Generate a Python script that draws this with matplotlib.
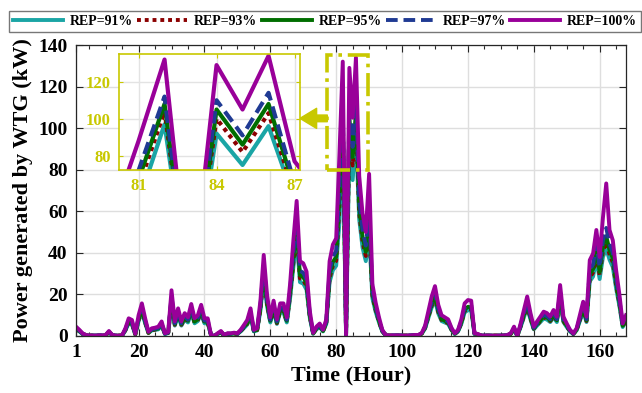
import numpy as np
import matplotlib
matplotlib.use('Agg')
import matplotlib.pyplot as plt
from matplotlib.patches import Rectangle
from matplotlib.ticker import MultipleLocator

plt.rcParams['font.family'] = ['Liberation Serif', 'DejaVu Serif']
plt.rcParams['font.weight'] = 'bold'

# hourly wind turbine output (kW) for each REP level, hours 1..168
hours = np.arange(1, 169)

rep100 = [4.5, 3, 1.3, 0.5, 0.3, 0.2, 0.2, 0.3, 0.3, 0.5,
          2.4, 0.5, 0.2, 0.2, 0.3, 3.7, 8.5, 7.7, 1, 10,
          15.7, 8.5, 2, 3.7, 4, 4.5, 7, 1.3, 2, 22,
          7, 13.3, 7, 11, 9, 15.4, 8.5, 10, 15, 8.5,
          8.5, 0.5, 0, 1.3, 2.4, 0.5, 1.3, 1.3, 1.6, 1.3,
          3, 5.3, 7.7, 13.3, 3, 3.7, 17, 39, 20, 9,
          17, 8, 15.7, 15.7, 9, 25, 46, 65, 36, 35,
          31, 12, 1.5, 4.5, 6, 3, 8, 36, 44, 47,
          88, 132, 0.5, 129, 105, 134, 77, 59, 50, 78,
          25, 16, 9, 3, 0.5, 0.3, 0.3, 0.3, 0.3, 0.2,
          0.2, 0.3, 0.3, 0.5, 0.5, 1.5, 5, 12, 19, 24,
          15, 10, 9, 8, 4, 1.3, 3, 8, 15.7, 17.3,
          17, 1.3, 1, 0.2, 0.2, 0.2, 0.2, 0.2, 0.2, 0.2,
          0.2, 0.5, 1.3, 4.5, 0, 6, 12.5, 19, 11, 4.5,
          7, 9.3, 11.7, 11, 9.3, 12.5, 9.3, 24.5, 9.3, 6,
          3, 1.3, 3.7, 10, 16.5, 9.3, 36.5, 39.7, 51, 38,
          57, 73.4, 51, 46, 31.7, 20, 6, 10]

rep97 = [4.0, 2.6, 1.1, 0.4, 0.3, 0.2, 0.2, 0.3, 0.3, 0.4,
         2.1, 0.4, 0.2, 0.2, 0.3, 3.2, 7.4, 6.7, 0.9, 8.7,
         13.7, 7.4, 1.7, 3.2, 3.5, 3.9, 6.1, 1.1, 1.7, 19.1,
         6.1, 11.6, 6.1, 9.6, 7.8, 13.4, 7.4, 8.7, 13.1, 7.4,
         7.4, 0.4, 0, 1.1, 2.1, 0.4, 1.1, 1.1, 1.4, 1.1,
         2.6, 4.6, 6.7, 11.6, 2.6, 3.2, 14.8, 33.9, 17.4, 7.8,
         14.8, 7.0, 13.7, 13.7, 7.8, 21.8, 40.0, 56.6, 31.3, 30.5,
         27.0, 10.4, 1.3, 3.9, 5.2, 2.6, 7.0, 31.3, 38.3, 40.9,
         72, 112, 0.4, 110, 91, 114, 65, 51.3, 43.5, 60,
         21.8, 13.9, 7.8, 2.6, 0.4, 0.3, 0.3, 0.3, 0.3, 0.2,
         0.2, 0.3, 0.3, 0.4, 0.4, 1.3, 4.4, 10.4, 16.5, 20.9,
         13.1, 8.7, 7.8, 7.0, 3.5, 1.1, 2.6, 7.0, 13.7, 15.1,
         14.8, 1.1, 0.9, 0.2, 0.2, 0.2, 0.2, 0.2, 0.2, 0.2,
         0.2, 0.4, 1.1, 3.9, 0, 5.2, 10.9, 16.5, 9.6, 3.9,
         6.1, 8.1, 10.2, 9.6, 8.1, 10.9, 8.1, 21.3, 8.1, 5.2,
         2.6, 1.1, 3.2, 8.7, 14.4, 8.1, 31.8, 34.5, 44.4, 33.1,
         46, 52, 44.4, 40.0, 27.6, 17.4, 5.2, 8.7]

rep95 = [3.7, 2.4, 1.1, 0.4, 0.2, 0.2, 0.2, 0.2, 0.2, 0.4,
         1.9, 0.4, 0.2, 0.2, 0.2, 3.0, 6.9, 6.2, 0.8, 8.1,
         12.7, 6.9, 1.6, 3.0, 3.2, 3.6, 5.7, 1.1, 1.6, 17.8,
         5.7, 10.8, 5.7, 8.9, 7.3, 12.5, 6.9, 8.1, 12.2, 6.9,
         6.9, 0.4, 0, 1.1, 1.9, 0.4, 1.1, 1.1, 1.3, 1.1,
         2.4, 4.3, 6.2, 10.8, 2.4, 3.0, 13.8, 31.6, 16.2, 7.3,
         13.8, 6.5, 12.7, 12.7, 7.3, 20.3, 37.3, 52.7, 29.2, 28.4,
         25.1, 9.7, 1.2, 3.6, 4.9, 2.4, 6.5, 29.2, 35.6, 38.1,
         67, 108, 0.4, 105, 86, 108, 62, 47.8, 40.5, 56,
         20.3, 13.0, 7.3, 2.4, 0.4, 0.2, 0.2, 0.2, 0.2, 0.2,
         0.2, 0.2, 0.2, 0.4, 0.4, 1.2, 4.1, 9.7, 15.4, 19.4,
         12.2, 8.1, 7.3, 6.5, 3.2, 1.1, 2.4, 6.5, 12.7, 14.0,
         13.8, 1.1, 0.8, 0.2, 0.2, 0.2, 0.2, 0.2, 0.2, 0.2,
         0.2, 0.4, 1.1, 3.6, 0, 4.9, 10.1, 15.4, 8.9, 3.6,
         5.7, 7.5, 9.5, 8.9, 7.5, 10.1, 7.5, 19.8, 7.5, 4.9,
         2.4, 1.1, 3.0, 8.1, 13.4, 7.5, 29.6, 32.2, 41.3, 30.8,
         43, 48, 41.3, 37.3, 25.7, 16.2, 4.9, 8.1]

rep93 = [3.5, 2.3, 1.0, 0.4, 0.2, 0.2, 0.2, 0.2, 0.2, 0.4,
         1.8, 0.4, 0.2, 0.2, 0.2, 2.8, 6.5, 5.9, 0.8, 7.7,
         12.1, 6.5, 1.5, 2.8, 3.1, 3.5, 5.4, 1.0, 1.5, 16.9,
         5.4, 10.2, 5.4, 8.5, 6.9, 11.9, 6.5, 7.7, 11.6, 6.5,
         6.5, 0.4, 0, 1.0, 1.8, 0.4, 1.0, 1.0, 1.2, 1.0,
         2.3, 4.1, 5.9, 10.2, 2.3, 2.8, 13.1, 30.0, 15.4, 6.9,
         13.1, 6.2, 12.1, 12.1, 6.9, 19.3, 35.4, 50.1, 27.7, 27.0,
         23.9, 9.2, 1.2, 3.5, 4.6, 2.3, 6.2, 27.7, 33.9, 36.2,
         63, 104, 0.4, 100, 82, 103, 59, 45.4, 38.5, 53,
         19.3, 12.3, 6.9, 2.3, 0.4, 0.2, 0.2, 0.2, 0.2, 0.2,
         0.2, 0.2, 0.2, 0.4, 0.4, 1.2, 3.9, 9.2, 14.6, 18.5,
         11.6, 7.7, 6.9, 6.2, 3.1, 1.0, 2.3, 6.2, 12.1, 13.3,
         13.1, 1.0, 0.8, 0.2, 0.2, 0.2, 0.2, 0.2, 0.2, 0.2,
         0.2, 0.4, 1.0, 3.5, 0, 4.6, 9.6, 14.6, 8.5, 3.5,
         5.4, 7.2, 9.0, 8.5, 7.2, 9.6, 7.2, 18.9, 7.2, 4.6,
         2.3, 1.0, 2.8, 7.7, 12.7, 7.2, 28.1, 30.6, 39.3, 29.3,
         41, 45, 39.3, 35.4, 24.4, 15.4, 4.6, 7.7]

rep91 = [3.3, 2.2, 0.9, 0.4, 0.2, 0.1, 0.1, 0.2, 0.2, 0.4,
         1.7, 0.4, 0.1, 0.1, 0.2, 2.7, 6.1, 5.5, 0.7, 7.2,
         11.3, 6.1, 1.4, 2.7, 2.9, 3.2, 5.0, 0.9, 1.4, 15.8,
         5.0, 9.6, 5.0, 7.9, 6.5, 11.1, 6.1, 7.2, 10.8, 6.1,
         6.1, 0.4, 0, 0.9, 1.7, 0.4, 0.9, 0.9, 1.2, 0.9,
         2.2, 3.8, 5.5, 9.6, 2.2, 2.7, 12.2, 28.1, 14.4, 6.5,
         12.2, 5.8, 11.3, 11.3, 6.5, 18.0, 33.1, 46.8, 25.9, 25.2,
         22.3, 8.6, 1.1, 3.2, 4.3, 2.2, 5.8, 25.9, 31.7, 33.8,
         55, 97, 0.4, 92, 75, 96, 56, 42.5, 36.0, 50,
         18.0, 11.5, 6.5, 2.2, 0.4, 0.2, 0.2, 0.2, 0.2, 0.2,
         0.1, 0.2, 0.2, 0.4, 0.4, 1.1, 3.6, 8.6, 13.7, 17.3,
         10.8, 7.2, 6.5, 5.8, 2.9, 0.9, 2.2, 5.8, 11.3, 12.5,
         12.2, 0.9, 0.7, 0.1, 0.1, 0.1, 0.1, 0.1, 0.1, 0.1,
         0.1, 0.4, 0.9, 3.2, 0, 4.3, 9.0, 13.7, 7.9, 3.2,
         5.0, 6.7, 8.4, 7.9, 6.7, 9.0, 6.7, 17.6, 6.7, 4.3,
         2.2, 0.9, 2.7, 7.2, 11.9, 6.7, 26.3, 28.6, 36.7, 27.4,
         38, 42, 36.7, 33.1, 22.8, 14.4, 4.3, 7.2]

labels = ['REP=91%', 'REP=93%', 'REP=95%', 'REP=97%', 'REP=100%']
series = [rep91, rep93, rep95, rep97, rep100]
colors = ['#1AA5A5', '#8B0000', '#006E00', '#1F3A93', '#990099']
styles = ['-', (0, (1, 1)), '-', (0, (3, 1.5)), '-']
yel = '#C8C800'

fig = plt.figure(figsize=(6.42, 3.93), dpi=100)
ax = fig.add_axes([76 / 642, 1 - 336 / 393, 550 / 642, 291 / 393])

for s, lab, c, ls in zip(series, labels, colors, styles):
    ax.plot(hours, s, color=c, linestyle=ls, lw=2.8, label=lab,
            dash_capstyle='butt', solid_joinstyle='round')

ax.set_xlim(1, 168)
ax.set_ylim(0, 140)
ax.set_xticks([1, 20, 40, 60, 80, 100, 120, 140, 160])
ax.set_yticks(np.arange(0, 141, 20))
ax.xaxis.set_minor_locator(MultipleLocator(5))
ax.tick_params(which='both', direction='in', top=True, right=True,
               width=0.8, color='#262626')
ax.tick_params(which='major', length=5, labelsize=14, pad=6)
ax.tick_params(which='minor', length=3)
ax.grid(True, which='major', color='#DEDEDE', lw=1)
ax.set_axisbelow(True)
for sp in ax.spines.values():
    sp.set_linewidth(0.9)
    sp.set_color('#262626')
ax.set_xlabel('Time (Hour)', fontsize=16, fontweight='bold', labelpad=3)
ax.set_ylabel('Power generated by WTG (kW)', fontsize=16, fontweight='bold', labelpad=4)

# zoom box + arrow
ax.add_patch(Rectangle((77.3, 80), 12.5, 55, fill=False, edgecolor=yel,
                       lw=2.6, linestyle='-.', zorder=5))
ax.annotate('', xy=(69.0, 104.7), xytext=(77.3, 104.7),
            arrowprops=dict(facecolor=yel, edgecolor=yel, width=4.8,
                            headwidth=14.5, headlength=12, shrink=0), zorder=5)

# inset
axins = fig.add_axes([119.3 / 642, 1 - 170 / 393, 180.7 / 642, 116 / 393])
for s, lab, c, ls in zip(series, labels, colors, styles):
    axins.plot(hours, s, color=c, linestyle=ls, lw=3,
               dash_capstyle='butt', solid_joinstyle='round')
axins.set_xlim(80.26, 87.21)
axins.set_ylim(72.3, 135)
axins.set_xticks([81, 84, 87])
axins.set_yticks([80, 100, 120])
axins.tick_params(direction='in', top=True, right=True, length=3,
                  color=yel, labelcolor=yel, labelsize=12, pad=6)
axins.grid(True, color='#E3E3E3', lw=1)
for sp in axins.spines.values():
    sp.set_color(yel)
    sp.set_linewidth(1.2)

leg = fig.legend(loc='lower left', bbox_to_anchor=(9 / 642, 1 - 32 / 393, 632 / 642, 29 / 393),
                 mode='expand', ncol=5, handlelength=3.6,
                 handletextpad=0.5, borderaxespad=0, borderpad=0.3, fancybox=False,
                 prop={'weight': 'bold', 'size': 10})
leg.get_frame().set_edgecolor('#555555')
leg.get_frame().set_linewidth(1.0)

fig.savefig('out.png', dpi=100)
